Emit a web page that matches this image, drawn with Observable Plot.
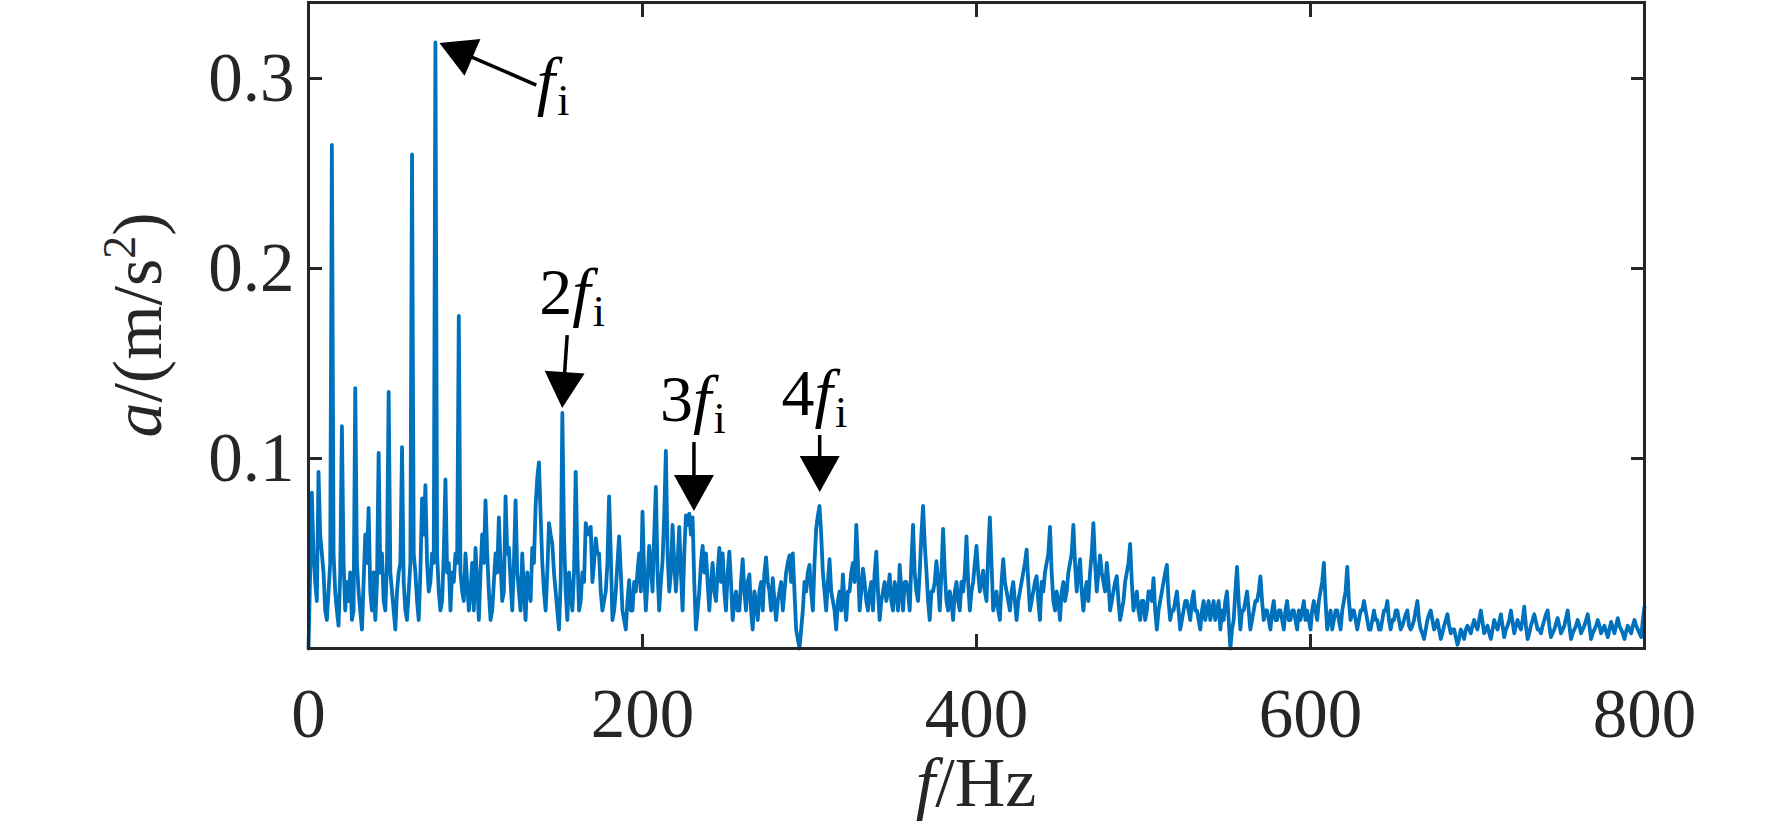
<!DOCTYPE html>
<html>
<head>
<meta charset="utf-8">
<script src="https://cdn.jsdelivr.net/npm/d3@7"></script>
<script src="https://cdn.jsdelivr.net/npm/@observablehq/plot@0.6"></script>
<style>
  html, body { margin: 0; padding: 0; background: #fff; }
</style>
</head>
<body>
<div id="chart"></div>
<script>
// ---- data ----
// amplitude (m/s^2) at even frequencies 0, 2, 4, ..., 800 Hz
const amplitudeEven = [
  0, 0.082, 0.035, 0.093, 0.05, 0.02, 0.03, 0.265, 0.03, 0.012,
  0.117, 0.02, 0.025, 0.015, 0.137, 0.03, 0.01, 0.06, 0.074, 0.02,
  0.015, 0.103, 0.05, 0.02, 0.135, 0.03, 0.01, 0.04, 0.106, 0.02,
  0.03, 0.26, 0.04, 0.015, 0.079, 0.086, 0.03, 0.05, 0.319, 0.03,
  0.025, 0.089, 0.045, 0.04, 0.05, 0.175, 0.03, 0.05, 0.02, 0.045,
  0.053, 0.015, 0.06, 0.078, 0.03, 0.02, 0.05, 0.069, 0.025, 0.08,
  0.053, 0.02, 0.078, 0.03, 0.05, 0.015, 0.03, 0.053, 0.075, 0.098,
  0.045, 0.02, 0.066, 0.055, 0.03, 0.01, 0.124, 0.03, 0.04, 0.02,
  0.093, 0.02, 0.04, 0.066, 0.06, 0.035, 0.058, 0.05, 0.02, 0.03,
  0.08, 0.015, 0.03, 0.059, 0.02, 0.01, 0.036, 0.02, 0.03, 0.05,
  0.072, 0.02, 0.054, 0.03, 0.085, 0.02, 0.046, 0.104, 0.03, 0.065,
  0.03, 0.064, 0.02, 0.07, 0.071, 0.069, 0.01, 0.03, 0.054, 0.05,
  0.02, 0.045, 0.025, 0.053, 0.05, 0.02, 0.051, 0.015, 0.03, 0.02,
  0.047, 0.02, 0.039, 0.01, 0.025, 0.03, 0.02, 0.048, 0.03, 0.037,
  0.015, 0.03, 0.02, 0.04, 0.049, 0.05, 0.01, 0.0, 0.02, 0.03,
  0.044, 0.02, 0.063, 0.075, 0.04, 0.02, 0.047, 0.025, 0.01, 0.03,
  0.039, 0.015, 0.03, 0.045, 0.065, 0.02, 0.042, 0.025, 0.03, 0.02,
  0.051, 0.015, 0.03, 0.025, 0.039, 0.02, 0.03, 0.044, 0.02, 0.035,
  0.02, 0.065, 0.03, 0.04, 0.075, 0.041, 0.015, 0.03, 0.046, 0.02,
  0.063, 0.025, 0.03, 0.015, 0.035, 0.02, 0.03, 0.059, 0.02, 0.035,
  0.054, 0.03, 0.041, 0.025, 0.069, 0.02, 0.03, 0.015, 0.047, 0.03,
  0.02, 0.035, 0.015, 0.03, 0.04, 0.052, 0.02, 0.03, 0.038, 0.015,
  0.03, 0.045, 0.064, 0.025, 0.03, 0.015, 0.035, 0.03, 0.045, 0.065,
  0.03, 0.047, 0.02, 0.035, 0.04, 0.066, 0.03, 0.049, 0.035, 0.045,
  0.02, 0.03, 0.038, 0.015, 0.025, 0.04, 0.055, 0.02, 0.03, 0.015,
  0.025, 0.02, 0.03, 0.037, 0.01, 0.025, 0.035, 0.044, 0.015, 0.02,
  0.03, 0.01, 0.02, 0.025, 0.015, 0.03, 0.02, 0.01, 0.025, 0.02,
  0.015, 0.025, 0.02, 0.01, 0.015, 0.03, 0.0, 0.015, 0.043, 0.01,
  0.02, 0.03, 0.01, 0.02, 0.025, 0.038, 0.015, 0.02, 0.01, 0.025,
  0.015, 0.02, 0.01, 0.025, 0.015, 0.02, 0.01, 0.015, 0.025, 0.02,
  0.01, 0.025, 0.015, 0.03, 0.045, 0.01, 0.02, 0.015, 0.02, 0.01,
  0.025, 0.043, 0.015, 0.02, 0.01, 0.02, 0.025, 0.015, 0.01, 0.02,
  0.015, 0.01, 0.02, 0.025, 0.01, 0.015, 0.02, 0.01, 0.015, 0.02,
  0.01, 0.015, 0.025, 0.01, 0.005, 0.015, 0.02, 0.01, 0.015, 0.005,
  0.012, 0.018, 0.008, 0.01, 0.002, 0.01, 0.005, 0.012, 0.008, 0.015,
  0.01, 0.02, 0.008, 0.012, 0.005, 0.015, 0.01, 0.018, 0.006, 0.012,
  0.02, 0.008, 0.015, 0.01, 0.022, 0.005, 0.012, 0.018, 0.01, 0.008,
  0.015, 0.02, 0.006, 0.01, 0.016, 0.008, 0.012, 0.02, 0.005, 0.01,
  0.015, 0.008, 0.012, 0.018, 0.005, 0.01, 0.015, 0.008, 0.012, 0.006,
  0.014, 0.008, 0.016, 0.01, 0.005, 0.012, 0.008, 0.015, 0.01, 0.006,
  0.022
];
// amplitude (m/s^2) at odd frequencies 1, 3, 5, ..., 799 Hz
const amplitudeOdd = [
  0.04, 0.05, 0.025, 0.06, 0.04, 0.015, 0.045, 0.05, 0.02, 0.04,
  0.045, 0.035, 0.04, 0.02, 0.045, 0.02, 0.035, 0.045, 0.03, 0.04,
  0.035, 0.04, 0.025, 0.045, 0.04, 0.02, 0.03, 0.045, 0.035, 0.015,
  0.045, 0.05, 0.025, 0.04, 0.06, 0.045, 0.035, 0.045, 0.05, 0.02,
  0.05, 0.04, 0.02, 0.035, 0.045, 0.04, 0.025, 0.035, 0.03, 0.02,
  0.035, 0.04, 0.045, 0.05, 0.015, 0.035, 0.04, 0.045, 0.03, 0.05,
  0.035, 0.045, 0.04, 0.02, 0.03, 0.04, 0.025, 0.045, 0.09, 0.07,
  0.03, 0.04, 0.06, 0.04, 0.02, 0.035, 0.06, 0.015, 0.03, 0.04,
  0.05, 0.025, 0.035, 0.062, 0.064, 0.045, 0.05, 0.03, 0.025, 0.045,
  0.05, 0.02, 0.045, 0.04, 0.015, 0.025, 0.02, 0.035, 0.04, 0.03,
  0.04, 0.035, 0.045, 0.06, 0.04, 0.035, 0.07, 0.05, 0.04, 0.045,
  0.045, 0.04, 0.05, 0.065, 0.06, 0.035, 0.02, 0.045, 0.04, 0.035,
  0.035, 0.03, 0.04, 0.035, 0.03, 0.04, 0.035, 0.025, 0.02, 0.035,
  0.03, 0.035, 0.02, 0.03, 0.015, 0.035, 0.04, 0.035, 0.02, 0.025,
  0.025, 0.035, 0.03, 0.045, 0.035, 0.03, 0.005, 0.01, 0.035, 0.04,
  0.03, 0.045, 0.07, 0.06, 0.03, 0.035, 0.03, 0.02, 0.025, 0.02,
  0.025, 0.03, 0.04, 0.035, 0.045, 0.03, 0.035, 0.02, 0.035, 0.04,
  0.03, 0.025, 0.035, 0.03, 0.025, 0.035, 0.02, 0.03, 0.035, 0.03,
  0.045, 0.04, 0.025, 0.06, 0.055, 0.025, 0.03, 0.035, 0.035, 0.04,
  0.04, 0.02, 0.025, 0.03, 0.025, 0.035, 0.04, 0.035, 0.03, 0.045,
  0.04, 0.035, 0.03, 0.05, 0.045, 0.025, 0.02, 0.035, 0.035, 0.025,
  0.03, 0.025, 0.025, 0.035, 0.045, 0.035, 0.025, 0.035, 0.025, 0.035,
  0.04, 0.05, 0.04, 0.02, 0.025, 0.03, 0.025, 0.04, 0.05, 0.045,
  0.04, 0.03, 0.03, 0.025, 0.05, 0.045, 0.04, 0.04, 0.03, 0.035,
  0.025, 0.035, 0.025, 0.02, 0.035, 0.045, 0.035, 0.025, 0.02, 0.025,
  0.015, 0.03, 0.025, 0.02, 0.02, 0.03, 0.04, 0.025, 0.02, 0.025,
  0.02, 0.015, 0.025, 0.02, 0.025, 0.02, 0.015, 0.02, 0.015, 0.025,
  0.02, 0.015, 0.025, 0.02, 0.025, 0.015, 0.01, 0.03, 0.025, 0.02,
  0.025, 0.02, 0.015, 0.025, 0.03, 0.025, 0.02, 0.015, 0.02, 0.015,
  0.02, 0.015, 0.02, 0.015, 0.02, 0.015, 0.02, 0.02, 0.015, 0.015,
  0.02, 0.02, 0.025, 0.035, 0.025, 0.015, 0.01, 0.02, 0.015, 0.02,
  0.03, 0.025, 0.02, 0.015, 0.015, 0.02, 0.02, 0.01, 0.015, 0.015,
  0.01, 0.015, 0.02, 0.015, 0.015, 0.02, 0.015, 0.012, 0.018, 0.012,
  0.012, 0.02, 0.015, 0.008, 0.01, 0.018, 0.015, 0.012, 0.01, 0.008,
  0.015, 0.012, 0.01, 0.006, 0.005, 0.008, 0.01, 0.01, 0.012, 0.012,
  0.015, 0.014, 0.01, 0.008, 0.01, 0.012, 0.014, 0.012, 0.01, 0.015,
  0.014, 0.012, 0.012, 0.015, 0.012, 0.008, 0.015, 0.014, 0.01, 0.012,
  0.018, 0.012, 0.008, 0.013, 0.012, 0.01, 0.016, 0.012, 0.008, 0.012,
  0.012, 0.01, 0.015, 0.012, 0.008, 0.012, 0.012, 0.01, 0.009, 0.01,
  0.011, 0.012, 0.012, 0.008, 0.009, 0.01, 0.012, 0.012, 0.008, 0.015
];
const freqs = d3.range(0, 801, 1); // Hz
const xTicks = [0, 200, 400, 600, 800];
const yTicks = [0.1, 0.2, 0.3];

// annotations (harmonics of f_i)
const annPrefix = ["", "2", "3", "4"];
const annTailF = [136.7, 155.2, 231.1, 306.4];
const annTailA = [0.2963, 0.1647, 0.1084, 0.1121];
const annTipF  = [78.7, 152.2, 231.1, 306.4];
const annTipA  = [0.3184, 0.1263, 0.0721, 0.0821];
const annLabelF = [137.0, 138.5, 210.8, 283.6];
const annLabelA = [0.2868, 0.1756, 0.1195, 0.1226];

const data = freqs.map(f => ({f, a: f % 2 === 0 ? amplitudeEven[f / 2] : amplitudeOdd[(f - 1) / 2]}));

const FONT = "'Liberation Serif', 'Times New Roman', serif";
const AX = "#262626";

const chart = Plot.plot({
  width: 1772,
  height: 834,
  marginLeft: 308,
  marginRight: 128,
  marginTop: 2,
  marginBottom: 186,
  style: {fontFamily: FONT, fontSize: "69px", color: AX, background: "#fff"},
  x: {domain: [0, 800]},
  y: {domain: [0, 0.34]},
  marks: [
    Plot.line(data, {x: "f", y: "a", stroke: "#0072BD", strokeWidth: 3.8, strokeLinejoin: "round"}),
    Plot.axisY(yTicks, {anchor: "left", tickSize: 0, tickPadding: 14, tickFormat: d => d.toFixed(1), label: null, fill: AX}),
    Plot.axisY(yTicks, {anchor: "left", tickSize: -14, tickFormat: () => "", label: null, stroke: AX, strokeWidth: 3}),
    Plot.axisY(yTicks, {anchor: "right", tickSize: -14, tickFormat: () => "", label: null, stroke: AX, strokeWidth: 3}),
    Plot.axisX(xTicks, {anchor: "bottom", tickSize: 0, tickPadding: 39, tickFormat: d => String(d), label: null, fill: AX}),
    Plot.axisX(xTicks, {anchor: "bottom", tickSize: -14, tickFormat: () => "", label: null, stroke: AX, strokeWidth: 3}),
    Plot.axisX(xTicks, {anchor: "top", tickSize: -14, tickFormat: () => "", label: null, stroke: AX, strokeWidth: 3}),
    Plot.frame({stroke: AX, strokeWidth: 3})
  ]
});
document.getElementById("chart").appendChild(chart);

// ---- annotations and axis titles (placed through the plot's scales) ----
const sx = chart.scale("x"), sy = chart.scale("y");
const svg = d3.select(chart);
const g = svg.append("g");
const headLen = 36, headW = 40;
annPrefix.forEach((p, i) => {
  const x0 = sx.apply(annTailF[i]), y0 = sy.apply(annTailA[i]);
  const x1 = sx.apply(annTipF[i]), y1 = sy.apply(annTipA[i]);
  const dx = x1 - x0, dy = y1 - y0, L = Math.hypot(dx, dy);
  const ux = dx / L, uy = dy / L;
  const bx = x1 - ux * headLen, by = y1 - uy * headLen;
  g.append("line").attr("x1", x0).attr("y1", y0).attr("x2", bx + ux * 2).attr("y2", by + uy * 2)
    .attr("stroke", "#000").attr("stroke-width", 3.5);
  g.append("polygon")
    .attr("points", [[x1, y1], [bx - uy * headW / 2, by + ux * headW / 2], [bx + uy * headW / 2, by - ux * headW / 2]].map(d => d.join(",")).join(" "))
    .attr("fill", "#000");
  const t = g.append("text").attr("x", sx.apply(annLabelF[i])).attr("y", sy.apply(annLabelA[i]))
    .attr("text-anchor", "start")
    .attr("font-family", FONT).attr("font-size", 66).attr("fill", "#000");
  if (p) t.append("tspan").text(p);
  t.append("tspan").attr("font-style", "italic").text("f");
  t.append("tspan").attr("font-size", 44).attr("dy", 12).attr("dx", 2).text("i");
});

// x title: f/Hz
const xt = svg.append("text")
  .attr("x", (sx.range[0] + sx.range[1]) / 2).attr("y", 806)
  .attr("text-anchor", "middle").attr("font-family", FONT).attr("font-size", 70).attr("fill", AX);
xt.append("tspan").attr("font-style", "italic").text("f");
xt.append("tspan").text("/Hz");

// y title: a/(m/s^2)
const yc = (sy.range[0] + sy.range[1]) / 2;
const yt = svg.append("text")
  .attr("transform", `translate(161,${yc}) rotate(-90)`)
  .attr("text-anchor", "middle").attr("font-family", FONT).attr("font-size", 70).attr("fill", AX);
yt.append("tspan").attr("font-style", "italic").text("a");
yt.append("tspan").text("/(m/s");
yt.append("tspan").attr("font-size", 46).attr("dy", -26).text("2");
yt.append("tspan").attr("dy", 26).text(")");
</script>
</body>
</html>
